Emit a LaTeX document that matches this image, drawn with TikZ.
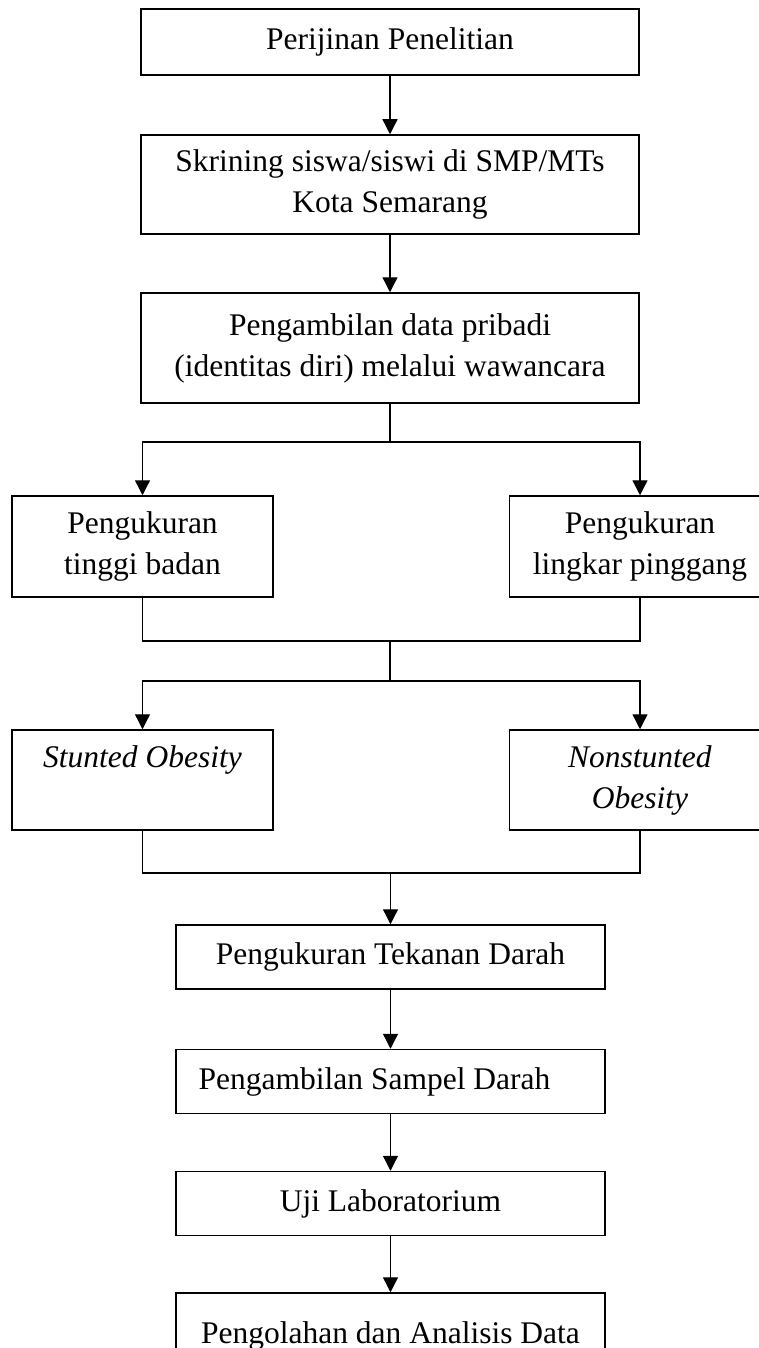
\documentclass[tikz,border=0pt]{standalone}
\usepackage{fontspec}
\setmainfont{Liberation Serif}
\usetikzlibrary{arrows.meta}

\begin{document}
\begin{tikzpicture}[x=1pt, y=-1pt, font=\fontsize{31.5}{41}\selectfont,
        kotak/.style={draw, line width=1.5pt, align=center, inner sep=0pt},
        panah/.style={-{Triangle[length=15pt, width=15pt]}, line width=1.3pt},
        garis/.style={line width=1.3pt}]
        \clip (0,0) rectangle (759,1348);
        % alur utama
        \node[kotak, minimum width=498pt, minimum height=66pt] (izin) at (390,42) {Perijinan Penelitian};
        \node[kotak, minimum width=498pt, minimum height=99pt] (skrining) at (390,184.5) {Skrining siswa/siswi di SMP/MTs\\Kota Semarang};
        \node[kotak, minimum width=498pt, minimum height=110pt] (data) at (390,348) {Pengambilan data pribadi\\(identitas diri) melalui wawancara};
        % pengukuran
        \node[kotak, minimum width=261pt, minimum height=101pt] (tinggi) at (142.5,546.5) {Pengukuran\\tinggi badan};
        \node[kotak, minimum width=261pt, minimum height=101pt] (lingkar) at (640,546.5) {Pengukuran\\lingkar pinggang};
        % kelompok
        \node[kotak, minimum width=261pt, minimum height=100pt] (stunted) at (142.5,780) {\textit{Stunted Obesity}\strut\\\strut};
        \node[kotak, minimum width=261pt, minimum height=100pt] (nonstunted) at (640,780) {\textit{Nonstunted}\strut\\\textit{Obesity}\strut};
        % pemeriksaan
        \node[kotak, minimum width=429pt, minimum height=64pt] (tekanan) at (390.5,957) {Pengukuran Tekanan Darah};
        \node[kotak, minimum width=429pt, minimum height=64pt] (sampel) at (390.5,1081.5) {Pengambilan Sampel Darah\hspace*{32pt}};
        \node[kotak, minimum width=429pt, minimum height=64pt] (lab) at (390.5,1203.5) {Uji Laboratorium};
        \node[kotak, minimum width=429pt, minimum height=86pt] (olah) at (390.5,1336) {Pengolahan dan Analisis Data};

        \coordinate (cab1) at (390,442);
        \coordinate (gab1) at (390,641);
        \coordinate (cab2) at (390,681);
        \coordinate (gab2) at (390.5,873);

        \foreach \a/\b in {izin/skrining, skrining/data, tekanan/sampel, sampel/lab, lab/olah}
            \draw[panah] (\a) -- (\b);

        \draw[garis] (data) -- (cab1);
        \draw[panah] (cab1) -| (tinggi);
        \draw[panah] (cab1) -| (lingkar);
        \draw[garis] (tinggi.south) |- (gab1) -| (lingkar.south);
        \draw[garis] (gab1) -- (cab2);
        \draw[panah] (cab2) -| (stunted);
        \draw[panah] (cab2) -| (nonstunted);
        \draw[garis] (stunted.south) |- (gab2) -| (nonstunted.south);
        \draw[panah] (gab2) -- (tekanan);
    \end{tikzpicture}
\end{document}
